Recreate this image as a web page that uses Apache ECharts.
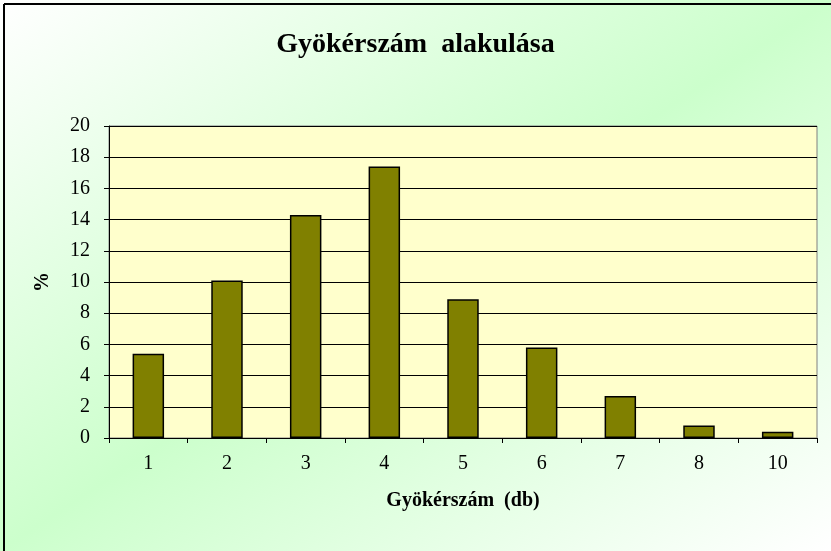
<!DOCTYPE html>
<html>
<head>
<meta charset="utf-8">
<script src="https://cdn.jsdelivr.net/npm/echarts@6/dist/echarts.min.js"></script>
<style>
html,body{margin:0;padding:0;width:831px;height:551px;overflow:hidden;}
#c{width:831px;height:551px;background:linear-gradient(to bottom right,#ffffff 0%,#ccffcc 50%,#ffffff 100%);}
</style>
</head>
<body>
<div id="c"></div>
<script>
var categories = ['1','2','3','4','5','6','7','8','10'];
var values = [5.4, 10.1, 14.3, 17.4, 8.9, 5.8, 2.7, 0.8, 0.4];
var yTicks = [0, 20, 2];
var titleText = 'Gyökérszám  alakulása';
var xName = 'Gyökérszám  (db)';
var yName = '%';

var chart = echarts.init(document.getElementById('c'));
var serif = '"Liberation Serif","Times New Roman",serif';
chart.setOption({
  backgroundColor: 'transparent',
  animation: false,
  title: {
    text: titleText, left: 'center', top: 26,
    textStyle: {fontFamily: serif, fontWeight: 'bold', fontSize: 28, color: '#000'}
  },
  graphic: [
    {type: 'line', shape: {x1: 4, y1: 4, x2: 831, y2: 4}, style: {stroke: '#000', lineWidth: 2}},
    {type: 'line', shape: {x1: 4, y1: 4, x2: 4, y2: 551}, style: {stroke: '#000', lineWidth: 2}}
  ],
  grid: {
    left: 109, right: 14, top: 126, bottom: 113,
    show: true, backgroundColor: '#ffffcc', borderColor: '#808080', borderWidth: 1
  },
  xAxis: {
    type: 'category', data: categories,
    name: xName, nameLocation: 'middle', nameGap: 53,
    nameTextStyle: {fontFamily: serif, fontWeight: 'bold', fontSize: 20, color: '#000'},
    axisLine: {lineStyle: {color: '#000', width: 1}},
    axisTick: {show: true, alignWithLabel: false, length: 5, lineStyle: {color: '#000'}},
    axisLabel: {fontFamily: serif, fontSize: 20, color: '#000', margin: 16}
  },
  yAxis: {
    type: 'value', min: yTicks[0], max: yTicks[1], interval: yTicks[2],
    name: yName, nameLocation: 'middle', nameGap: 56, nameRotate: 90,
    nameTextStyle: {fontFamily: serif, fontWeight: 'bold', fontSize: 20, color: '#000'},
    axisLine: {show: true, lineStyle: {color: '#000', width: 1}},
    axisTick: {show: true, length: 5, lineStyle: {color: '#000'}},
    axisLabel: {fontFamily: serif, fontSize: 20, color: '#000', margin: 19},
    splitLine: {show: true, lineStyle: {color: '#000', width: 1}}
  },
  series: [{
    type: 'bar', data: values, barCategoryGap: '60%',
    itemStyle: {color: '#808000', borderColor: '#000', borderWidth: 1.5}
  }]
});
</script>
</body>
</html>
